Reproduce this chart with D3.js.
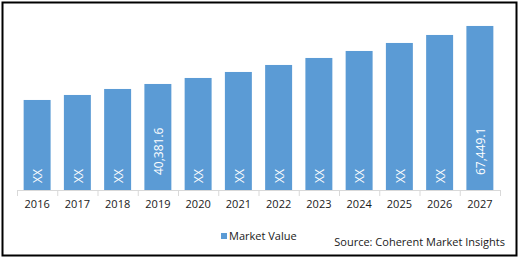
<!DOCTYPE html>
<html>
<head>
<meta charset="utf-8">
<script src="https://cdn.jsdelivr.net/npm/d3@7"></script>
<style>
  html, body { margin: 0; padding: 0; background: #fff; }
  svg { display: block; font-family: "Open Sans", sans-serif; }
</style>
</head>
<body>
<div id="chart"></div>
<script>
// Data (values other than the two labelled bars are estimated)
const years  = ['2016', '2017', '2018', '2019', '2020', '2021', '2022', '2023', '2024', '2025', '2026', '2027'];
const values = [32915, 35248, 38048, 40381.6, 43182, 45982, 49249, 52516, 55782, 59516, 63250, 67449.1];
const labels = ['XX', 'XX', 'XX', '40,381.6', 'XX', 'XX', 'XX', 'XX', 'XX', 'XX', 'XX', '67,449.1'];
const seriesName = 'Market Value';
const sourceText = 'Source: Coherent Market Insights';

const W = 519, H = 259;
const BAR = '#5B9BD5';

const svg = d3.select('#chart').append('svg')
  .attr('width', W).attr('height', H);

/* ── Frame ───────────────────────────────────────────── */
svg.append('rect')
  .attr('x', 2.5).attr('y', 2.5)
  .attr('width', 514).attr('height', 253)
  .attr('fill', '#fff')
  .attr('stroke', '#000')
  .attr('stroke-width', 2);

/* ── Scales ──────────────────────────────────────────── */
const x = d3.scaleBand()
  .domain(years)
  .range([17, 500])
  .paddingInner(0.33)
  .paddingOuter(0.165);

// value axis is hidden; its minimum is not zero in the source chart
const y = d3.scaleLinear()
  .domain([-9100, 70000])
  .range([190, 20.5]);

/* ── Bars ────────────────────────────────────────────── */
svg.append('g').selectAll('rect')
  .data(years)
  .join('rect')
  .attr('x', (d) => x(d))
  .attr('y', (d, i) => y(values[i]))
  .attr('width', x.bandwidth())
  .attr('height', (d, i) => y(y.domain()[0]) - y(values[i]))
  .attr('fill', BAR);

/* ── Data labels (inside base, rotated) ──────────────── */
svg.append('g').selectAll('text')
  .data(years)
  .join('text')
  .attr('transform', (d, i) => {
    const pad = labels[i] === 'XX' ? 7 : 15;
    return `translate(${x(d) + x.bandwidth() / 2 + 1},${y(y.domain()[0]) - pad}) rotate(-90)`;
  })
  .attr('dy', '0.35em')
  .attr('text-anchor', 'start')
  .attr('fill', '#fff')
  .attr('font-size', '12px')
  .text((d, i) => labels[i]);

/* ── Category axis ───────────────────────────────────── */
const axisG = svg.append('g')
  .attr('transform', `translate(0,${y(y.domain()[0])})`);

axisG.call(d3.axisBottom(x).tickSize(0).tickPadding(10))
  .call(sel => sel.select('.domain').remove())
  .call(sel => sel.selectAll('text')
    .attr('fill', '#1a1a1a')
    .attr('font-size', '11px')
    .attr('font-family', '"Open Sans", sans-serif'));

// tick marks sit between categories
const edges = d3.scaleLinear().domain([0, years.length]).range(x.range());
axisG.append('g')
  .call(d3.axisBottom(edges).ticks(years.length).tickSize(6).tickFormat(''))
  .call(sel => sel.select('.domain').attr('stroke', '#d9d9d9'))
  .call(sel => sel.selectAll('line').attr('stroke', '#d9d9d9'));

/* ── Legend + source ─────────────────────────────────── */
svg.append('rect')
  .attr('x', 221).attr('y', 233)
  .attr('width', 6).attr('height', 6)
  .attr('fill', BAR);

svg.append('text')
  .attr('x', 229).attr('y', 240)
  .attr('fill', '#1a1a1a')
  .attr('font-size', '11px')
  .text(seriesName);

svg.append('text')
  .attr('x', 505).attr('y', 246)
  .attr('text-anchor', 'end')
  .attr('fill', '#1a1a1a')
  .attr('font-size', '11px')
  .text(sourceText);
</script>
</body>
</html>
